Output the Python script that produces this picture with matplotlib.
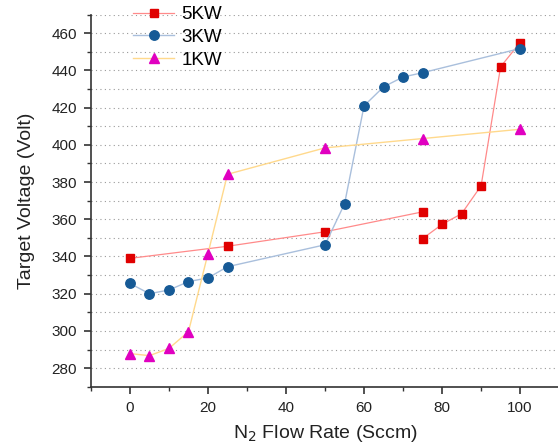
import matplotlib
matplotlib.use("Agg")
import matplotlib.pyplot as plt
import numpy as np
from matplotlib.ticker import MultipleLocator

plt.rcParams['font.family'] = ['Liberation Sans', 'DejaVu Sans']

# 5KW: two branches (increasing and decreasing flow)
x5a = [0, 25, 50, 75]
y5a = [339, 345.5, 353.3, 364]
x5b = [75, 80, 85, 90, 95, 100]
y5b = [349.6, 357.3, 363, 378, 442, 455]

x3 = [0, 5, 10, 15, 20, 25, 50, 55, 60, 65, 70, 75, 100]
y3 = [325.5, 320, 322, 326.5, 328.5, 334.5, 346.3, 368.3, 421, 431.2, 436.5, 438.8, 451.8]

x1 = [0, 5, 10, 15, 20, 25, 50, 75, 100]
y1 = [287.8, 286.7, 290.6, 299.6, 341.6, 384.2, 398.4, 403.4, 408.4]

labels = ["5KW", "3KW", "1KW"]

fig = plt.figure(figsize=(5.58, 4.45), dpi=100)
ax = fig.add_axes([0.163, 0.131, 0.839, 0.836])

l5, = ax.plot(x5a, y5a, color='#ff8a8a', lw=0.9, marker='s', ms=6,
              mfc='#e00000', mec='#e00000', label=labels[0])
ax.plot(x5b, y5b, color='#ff8a8a', lw=0.9, marker='s', ms=6,
        mfc='#e00000', mec='#e00000')
l3, = ax.plot(x3, y3, color='#a9bfdc', lw=1.0, marker='o', ms=6.8,
              mfc='#165a96', mec='#165a96', label=labels[1])
l1, = ax.plot(x1, y1, color='#ffd98c', lw=1.0, marker='^', ms=7.5,
              mfc='#e000c0', mec='#e000c0', label=labels[2])

ax.set_xlim(-10, 110)
ax.set_ylim(270, 470)
ax.xaxis.set_major_locator(MultipleLocator(20))
ax.xaxis.set_minor_locator(MultipleLocator(10))
ax.yaxis.set_minor_locator(MultipleLocator(10))
ax.set_yticks([280, 300, 320, 340, 360, 380, 400, 420, 440, 460])
ax.set_xticks([0, 20, 40, 60, 80, 100])
ax.grid(axis='y', which='both', linestyle=(0, (1, 3)), color='#999999', lw=0.8)
ax.set_axisbelow(True)

for s in ['top', 'right']:
    ax.spines[s].set_visible(False)
for s in ['left', 'bottom']:
    ax.spines[s].set_linewidth(1.2)
    ax.spines[s].set_color('#333333')

ax.tick_params(which='major', direction='out', length=5, width=1.2, color='#333333',
               labelsize=11, labelcolor='#222222', pad=5)
ax.tick_params(which='minor', direction='out', length=3, width=1.0, color='#333333')

ax.set_xlabel("N$_2$ Flow Rate (Sccm)", fontsize=14, color='#222222', labelpad=6)
ax.set_ylabel("Target Voltage (Volt)", fontsize=14, color='#222222', labelpad=12)

leg = fig.legend(handles=[l5, l3, l1], loc='upper left',
                 bbox_to_anchor=(133 / 558, 1 - 6 / 445), frameon=False, fontsize=13.5,
                 handlelength=2.2, handletextpad=0.37, labelspacing=0.3,
                 borderaxespad=0, borderpad=0)

fig.savefig("out.png", dpi=100)
